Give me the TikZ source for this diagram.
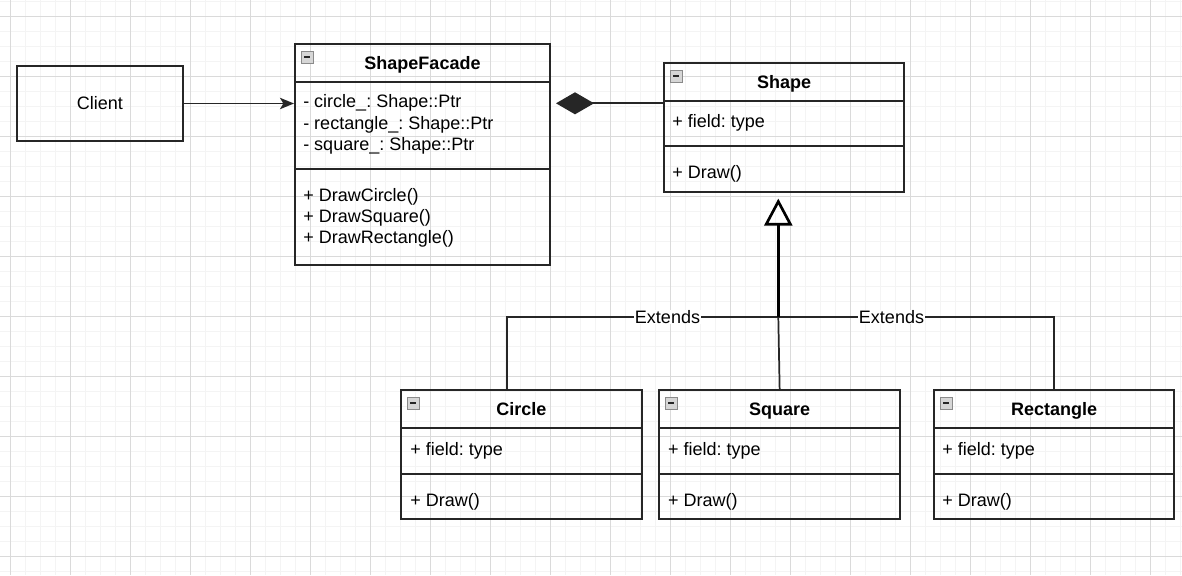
\documentclass[tikz,border=0pt]{standalone}
\usepackage{fontspec}
\setmainfont{Liberation Sans}
\usetikzlibrary{arrows.meta,calc}
\frenchspacing
\definecolor{gridmajor}{HTML}{DADADA}
\definecolor{gridminor}{HTML}{F4F4F4}
\definecolor{linecol}{HTML}{262626}
\definecolor{iconfill}{HTML}{D6D6D6}
\definecolor{iconedge}{HTML}{8A8A8A}
\tikzset{
  frame/.style={draw=linecol, line width=1.5pt, inner sep=0pt, rectangle},
  frameline/.style={draw=linecol, line width=1.5pt},
  titletext/.style={font=\fontsize{13.5pt}{16pt}\selectfont\bfseries, inner sep=0pt},
  txt/.style={font=\fontsize{13.5pt}{16pt}\selectfont, inner sep=0pt, anchor=base west},
  conn/.style={draw=linecol, line width=1.3pt},
  inh/.style={draw=black, line width=2.1pt},
  lbl/.style={font=\fontsize{13.5pt}{16pt}\selectfont, fill=white, inner sep=0.6pt},
  iconbox/.style={draw=iconedge, fill=iconfill, line width=0.7pt},
  iconminus/.style={draw=linecol, line width=1.4pt},
}
\newcommand\classframe[8]{%
  \node[frame, minimum width={#4*0.75pt}, minimum height={#5*0.75pt}, anchor=north west] (#1) at (#2,#3) {};
  \draw[frameline] ($(#1.north west)+(0,#6)$) -- ($(#1.north east)+(0,#6)$);
  \draw[frameline] ($(#1.north west)+(0,#7)$) -- ($(#1.north east)+(0,#7)$);
  \node[titletext, anchor=base] (#1-title) at ($(#1.north)+(0,26.5)$) {#8};
  \draw[iconbox] ($(#1.north west)+(7,8)$) rectangle ++(12,12);
  \draw[iconminus] ($(#1.north west)+(10,14)$) -- ++(6,0);
}
\begin{document}
\begin{tikzpicture}[x=0.75pt,y=-0.75pt]
\useasboundingbox (0,0) rectangle (1182,575);
\fill[white] (0,0) rectangle (1182,575);
% grid
\foreach \gx in {10,25,...,1180} \draw[gridminor, line width=0.75pt] (\gx,0) -- (\gx,575);
\foreach \gy in {1,16,...,575} \draw[gridminor, line width=0.75pt] (0,\gy) -- (1182,\gy);
\foreach \gx in {10,70,...,1180} \draw[gridmajor, line width=0.75pt] (\gx,0) -- (\gx,575);
\foreach \gy in {16,76,...,575} \draw[gridmajor, line width=0.75pt] (0,\gy) -- (1182,\gy);

% Client
\node[frame, minimum width={165.7*0.75pt}, minimum height={75*0.75pt}, anchor=north west,
      font=\fontsize{13.5pt}{16pt}\selectfont] (client) at (16,65) {Client};

% classes
\classframe{facade}{294}{43}{255}{221}{39.3}{126}{ShapeFacade}
\classframe{shape}{663}{62.3}{240.3}{129}{39}{83.7}{Shape}
\classframe{circle}{400}{389.3}{240.7}{128.7}{39}{84.4}{Circle}
\classframe{square}{658.3}{389.3}{240.7}{128.7}{39}{84.4}{Square}
\classframe{rectangle}{933}{389.3}{240.3}{128.7}{39}{84.4}{Rectangle}

% facade members
\node[txt] (f1) at (303,107.7) {- circle\_: Shape::Ptr};
\node[txt] (f2) at (303,129) {- rectangle\_: Shape::Ptr};
\node[txt] (f3) at (303,150.3) {- square\_: Shape::Ptr};
\node[txt] (m1) at (303,201) {+ DrawCircle()};
\node[txt] (m2) at (303,222) {+ DrawSquare()};
\node[txt] (m3) at (303,243) {+ DrawRectangle()};

% shape members
\node[txt] (sf) at (672,127.7) {+ field: type};
\node[txt] (sm) at (672,178.3) {+ Draw()};
% circle
\node[txt] (cf) at (410,455) {+ field: type};
\node[txt] (cm) at (410,506) {+ Draw()};
% square
\node[txt] (qf) at (667.8,455) {+ field: type};
\node[txt] (qm) at (667.8,506) {+ Draw()};
% rectangle
\node[txt] (rf) at (942,455) {+ field: type};
\node[txt] (rm) at (942,506) {+ Draw()};

% client -> facade
\draw[conn, -{Stealth[length=10.5pt,width=8.5pt,inset=2.5pt]}] (client.east) -- (client.east -| facade.west);

% composition
\coordinate (shapeport) at ($(shape.north west)+(0,41)$);
\draw[conn, -{Diamond[length=28.5pt,width=16.5pt]}, shorten >=3.75pt] (shapeport) -- (shapeport -| facade.east);

% inheritance
\coordinate (junction) at (778.3,317);
\coordinate (circleport) at ($(circle.north west)+(106.7,0)$);
\draw[conn] (circleport) |- (junction);
\draw[conn] (rectangle.north) |- (junction);
\draw[conn] (square.north) -- (junction);
\draw[inh, -{Triangle[open,length=20.25pt,width=21pt,line width=2pt]}, shorten >=4pt] (junction) -- (junction |- shape.south);

\node[lbl] (ext1) at (667.5,317) {Extends};
\node[lbl] (ext2) at (891.5,317) {Extends};
\end{tikzpicture}
\end{document}
